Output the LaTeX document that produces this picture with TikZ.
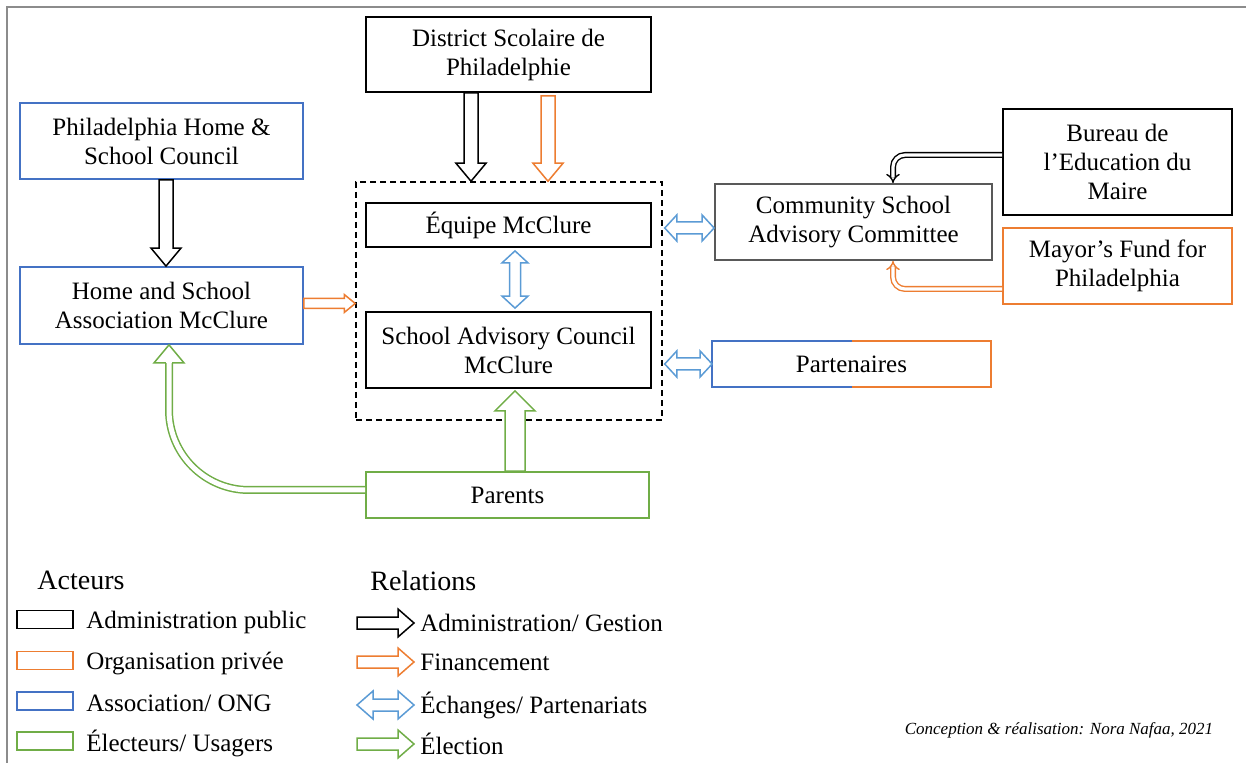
\documentclass[tikz,border=0pt]{standalone}
\usepackage{fontspec}
\setmainfont{Liberation Serif}
\usetikzlibrary{positioning,arrows.meta,calc}

\definecolor{assoblue}{HTML}{4472C4}
\definecolor{privorange}{HTML}{ED7D31}
\definecolor{electgreen}{HTML}{70AD47}
\definecolor{exchblue}{HTML}{5B9BD5}
\definecolor{framegray}{HTML}{8C8C8C}
\definecolor{csacgray}{HTML}{595959}

\newcommand\bodyfont{\fontsize{12.5}{14.5}\selectfont}

% block arrow: style, from, to, half shaft, half head, head length
\newcommand\blkarrow[6]{%
  \coordinate (ba-a) at (#2);
  \coordinate (ba-b) at (#3);
  \coordinate (ba-h) at ($(ba-b)!#6!(ba-a)$);
  \draw[#1] ($(ba-a)!#4!90:(ba-b)$) -- ($(ba-h)!#4!-90:(ba-a)$)
    -- ($(ba-h)!#5!-90:(ba-a)$) -- (ba-b) -- ($(ba-h)!#5!90:(ba-a)$)
    -- ($(ba-h)!#4!90:(ba-a)$) -- ($(ba-a)!#4!-90:(ba-b)$) -- cycle;
}
% same, with a head at both ends
\newcommand\blkdarrow[6]{%
  \coordinate (ba-a) at (#2);
  \coordinate (ba-b) at (#3);
  \coordinate (ba-ha) at ($(ba-a)!#6!(ba-b)$);
  \coordinate (ba-hb) at ($(ba-b)!#6!(ba-a)$);
  \draw[#1] (ba-a) -- ($(ba-ha)!#5!90:(ba-b)$) -- ($(ba-ha)!#4!90:(ba-b)$)
    -- ($(ba-hb)!#4!-90:(ba-a)$) -- ($(ba-hb)!#5!-90:(ba-a)$) -- (ba-b)
    -- ($(ba-hb)!#5!90:(ba-a)$) -- ($(ba-hb)!#4!90:(ba-a)$)
    -- ($(ba-ha)!#4!-90:(ba-b)$) -- ($(ba-ha)!#5!-90:(ba-b)$) -- cycle;
}
% head only (base centre, tip), for the curved double lines
\newcommand\blkhead[5]{%
  \coordinate (ba-a) at (#2);
  \coordinate (ba-b) at (#3);
  \draw[#1] ($(ba-a)!#4!90:(ba-b)$) -- ($(ba-a)!#5!90:(ba-b)$) -- (ba-b)
    -- ($(ba-a)!#5!-90:(ba-b)$) -- ($(ba-a)!#4!-90:(ba-b)$);
}

\begin{document}
\begin{tikzpicture}[
        x=0.5pt, y=0.5pt,
        box/.style    ={draw, line width=0.9pt, align=center, font=\bodyfont, inner sep=1pt},
        pub/.style    ={box, draw=black},
        asso/.style   ={box, draw=assoblue},
        priv/.style   ={box, draw=privorange},
        usag/.style   ={box, draw=electgreen},
        admarr/.style ={draw=black, line width=0.75pt, fill=white},
        finarr/.style ={draw=privorange, line width=0.75pt, fill=white},
        excharr/.style={draw=exchblue, line width=0.75pt, fill=white},
        elecarr/.style={draw=electgreen, line width=0.75pt, fill=white},
        dbl/.style    ={double, double distance=1.6pt, line width=0.7pt, rounded corners=6pt},
        lgd/.style    ={font=\bodyfont, anchor=west, inner sep=0pt},
        lgdbox/.style ={minimum width=28pt, minimum height=9pt, inner sep=0pt},
    ]
    \useasboundingbox (0,0) rectangle (1246,-763);
    \draw[framegray, line width=1pt] (1246,-7) -- (7,-7) -- (7,-763);

    % ===================== Actors =====================
    \node[box, dashed, dash pattern=on 3pt off 2pt, line width=0.75pt,
          minimum width=153pt, minimum height=119pt] (grp) at (509,-301) {};
    \node[pub, minimum width=142.5pt, minimum height=37.5pt] (dist) at (508.5,-54.5)
        {District Scolaire de\\Philadelphie};
    \node[asso, minimum width=141.5pt, minimum height=38pt] (phsc) at (161.5,-141)
        {Philadelphia Home \&\\School Council};
    \node[asso, minimum width=141.5pt, minimum height=38.5pt] (hsa) at (161.5,-305.5)
        {Home and School\\Association McClure};
    \node[pub, minimum width=142.5pt, minimum height=22pt] (eqp) at (508.5,-225)
        {Équipe McClure};
    \node[pub, minimum width=142.5pt, minimum height=38pt] (sac) at (508.5,-350)
        {School Advisory Council\\McClure};
    \node[box, draw=csacgray, minimum width=138.5pt, minimum height=38pt] (csac) at (853.5,-222)
        {Community School\\Advisory Committee};
    \node[pub, minimum width=114.5pt, minimum height=53pt] (bureau) at (1117.5,-162)
        {Bureau de\\l’Education du\\Maire};
    \node[priv, minimum width=114.5pt, minimum height=38pt] (mayor) at (1117.5,-266)
        {Mayor’s Fund for\\Philadelphia};
    \node[box, draw=none, minimum width=138.5pt, minimum height=22pt] (partn) at (851.5,-364)
        {Partenaires};
    \draw[assoblue, line width=0.9pt] (partn.north) -- (partn.north west)
        -- (partn.south west) -- (partn.south);
    \draw[privorange, line width=0.9pt] (partn.north) -- (partn.north east)
        -- (partn.south east) -- (partn.south);
    \node[usag, minimum width=141.5pt, minimum height=23pt] (parents) at (507.5,-495)
        {Parents};

    % ===================== Relations =====================
    \blkarrow{admarr}{$(dist.south)+(-37.5,0)$}{$(grp.north)+(-38,0)$}{3.5pt}{7.5pt}{9pt}
    \blkarrow{finarr}{$(dist.south)+(39.5,-3)$}{$(grp.north)+(39,0)$}{3.5pt}{7.5pt}{9pt}
    \blkarrow{admarr}{$(phsc.south)+(4.5,0)$}{$(hsa.north)+(4.5,0)$}{3.5pt}{7.5pt}{9pt}
    \blkarrow{finarr}{$(hsa.east)+(0,2)$}{$(hsa.east -| grp.west)+(0,2)$}{2.5pt}{4.5pt}{5.5pt}
    \blkdarrow{excharr}{$(eqp.south)+(6.5,-3)$}{$(sac.north)+(6.5,3)$}{2.75pt}{6.5pt}{6pt}
    \blkdarrow{excharr}{$(csac.west -| grp.east)+(2,-6)$}{$(csac.west)+(0,-6)$}{3pt}{6.5pt}{6pt}
    \blkdarrow{excharr}{$(partn.west -| grp.east)+(2,0)$}{partn.west}{3pt}{6.5pt}{6pt}
    \blkarrow{elecarr}{$(parents.north)+(7.5,0)$}{$(sac.south)+(6.5,-2)$}{5pt}{10pt}{10pt}

    \draw[electgreen, double, double distance=2.5pt, line width=0.75pt, rounded corners=40pt]
        ($(parents.west)+(0,5)$) -| ($(hsa.south)+(7.5,-18)$);
    \blkhead{elecarr}{$(hsa.south)+(7.5,-18)$}{$(hsa.south)+(7.5,0)$}{1.6pt}{7.5pt}

    \draw[dbl, draw=black, -{Implies}] ($(bureau.west)+(0,7)$) -| ($(csac.north)+(39.5,0)$);
    \draw[dbl, draw=privorange, -{Implies}] ($(mayor.west)+(0,-23)$) -| ($(csac.south)+(39.5,0)$);

    % ===================== Legend =====================
    \node[lgd, font=\fontsize{14}{17}\selectfont] (acteurs) at (37,-580) {Acteurs};
    \node[lgd, font=\fontsize{14}{17}\selectfont] (relations) at (370,-581) {Relations};

    \node[pub, lgdbox] (k1) at (45,-619.5) {};
    \node[lgd, right=6pt of k1, yshift=-1.5pt] {Administration public};
    \node[priv, lgdbox] (k2) at (45,-660.5) {};
    \node[lgd, right=6pt of k2, yshift=-1.5pt] {Organisation privée};
    \node[asso, lgdbox] (k3) at (45,-701) {};
    \node[lgd, right=6pt of k3, yshift=-1pt] {Association/ ONG};
    \node[usag, lgdbox] (k4) at (45,-741) {};
    \node[lgd, right=6pt of k4, yshift=-1pt] {Électeurs/ Usagers};

    \node[lgd] (r1) at (420,-623) {Administration/ Gestion};
    \node[lgd] (r2) at (420,-662) {Financement};
    \node[lgd] (r3) at (420,-705) {Échanges/ Partenariats};
    \node[lgd] (r4) at (420,-744) {Élection};
    \blkarrow{admarr}{$(r1.west)+(-63,0)$}{$(r1.west)+(-6,0)$}{3pt}{7pt}{8pt}
    \blkarrow{finarr}{$(r2.west)+(-63,0)$}{$(r2.west)+(-6,0)$}{3pt}{7pt}{8pt}
    \blkdarrow{excharr}{$(r3.west)+(-63,0)$}{$(r3.west)+(-6,0)$}{3pt}{7pt}{8pt}
    \blkarrow{elecarr}{$(r4.west)+(-63,0)$}{$(r4.west)+(-6,0)$}{3pt}{7pt}{8pt}

    \node[font=\fontsize{8.5}{10}\selectfont\itshape] (credit) at (1059,-730)
        {Conception \& réalisation: Nora Nafaa, 2021};
\end{tikzpicture}
\end{document}
